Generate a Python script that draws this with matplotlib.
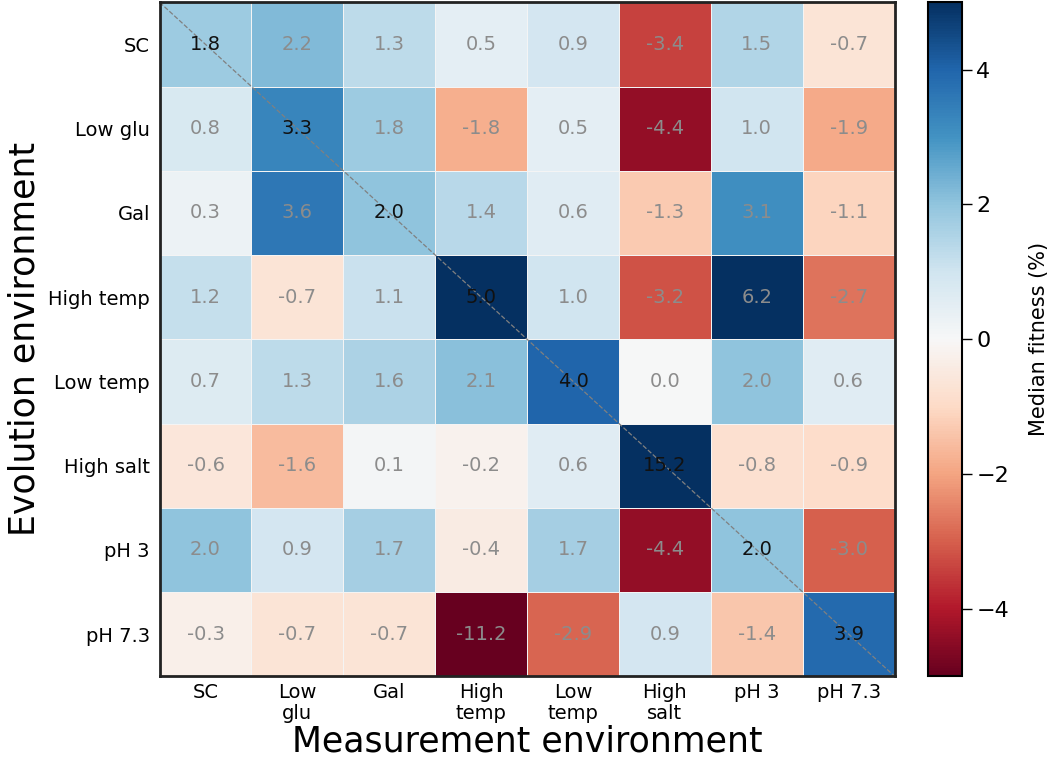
import numpy as np
import matplotlib
matplotlib.use("Agg")
import matplotlib.pyplot as plt

# Environments (rows = evolution, columns = measurement)
row_labels = ['SC', 'Low glu', 'Gal', 'High temp', 'Low temp', 'High salt', 'pH 3', 'pH 7.3']
col_labels = ['SC', 'Low\nglu', 'Gal', 'High\ntemp', 'Low\ntemp', 'High\nsalt', 'pH 3', 'pH 7.3']

# Median fitness (%) values
sc = [1.8, 2.2, 1.3, 0.5, 0.9, -3.4, 1.5, -0.7]
low_glu = [0.8, 3.3, 1.8, -1.8, 0.5, -4.4, 1.0, -1.9]
gal = [0.3, 3.6, 2.0, 1.4, 0.6, -1.3, 3.1, -1.1]
high_temp = [1.2, -0.7, 1.1, 5.0, 1.0, -3.2, 6.2, -2.7]
low_temp = [0.7, 1.3, 1.6, 2.1, 4.0, 0.0, 2.0, 0.6]
high_salt = [-0.6, -1.6, 0.1, -0.2, 0.6, 15.2, -0.8, -0.9]
ph3 = [2.0, 0.9, 1.7, -0.4, 1.7, -4.4, 2.0, -3.0]
ph73 = [-0.3, -0.7, -0.7, -11.2, -2.9, 0.9, -1.4, 3.9]

data = np.array([sc, low_glu, gal, high_temp, low_temp, high_salt, ph3, ph73])
n = data.shape[0]

fig = plt.figure(figsize=(10.5, 7.65), dpi=100)
ax = fig.add_axes([0.152, 0.116, 0.700, 0.881])
cax = fig.add_axes([0.884, 0.116, 0.032, 0.881])

mesh = ax.pcolormesh(data, cmap='RdBu', vmin=-5, vmax=5,
                     edgecolors='#f4f4f4', linewidth=0.6)
ax.set_xlim(0, n)
ax.set_ylim(n, 0)

# Annotate cells: diagonal in black, the rest in gray
for i in range(n):
    for j in range(n):
        color = '#111111' if i == j else '#8c8c8c'
        ax.text(j + 0.5, i + 0.5, '{:.1f}'.format(data[i, j]),
                ha='center', va='center', fontsize=14, color=color)

# Dashed diagonal
ax.plot([0, n], [0, n], ls='--', color='gray', lw=0.9)

ax.set_xticks(np.arange(n) + 0.5)
ax.set_xticklabels(col_labels, fontsize=14, linespacing=1.1)
ax.set_yticks(np.arange(n) + 0.5)
ax.set_yticklabels(row_labels, fontsize=14)
ax.tick_params(axis='x', length=0, pad=5)
ax.tick_params(axis='y', length=0, pad=7)
for s in ax.spines.values():
    s.set_linewidth(2)
    s.set_color('#222222')

ax.set_xlabel('Measurement environment', fontsize=25, labelpad=1)
ax.set_ylabel('Evolution environment', fontsize=25, labelpad=5)

cb = fig.colorbar(mesh, cax=cax, ticks=[-4, -2, 0, 2, 4])
cb.ax.tick_params(labelsize=16, length=7, width=1)
cb.outline.set_linewidth(1.5)
cb.set_label('Median fitness (%)', fontsize=15, labelpad=14)

fig.savefig('out.png', dpi=100)
